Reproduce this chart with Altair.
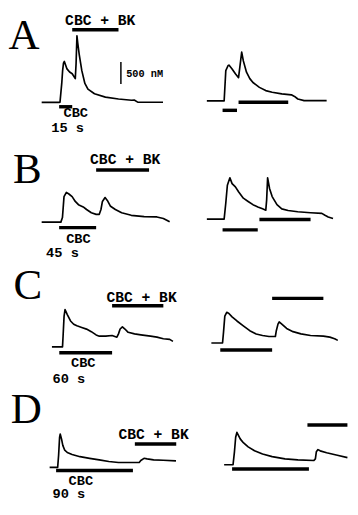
import altair as alt
import pandas as pd

# ---------------- data: [Ca2+]i traces (time since trace start in s, rise above baseline in nM)
A1_t = [0, 20, 21, 23, 24, 25, 26, 29, 32, 35, 38.5, 39.4, 40.4, 41.3, 43, 46, 49.5, 53, 60.5, 73, 88, 103, 106, 110, 139]
A1_ca = [0, 0, 5, 430, 720, 890, 930, 760, 690, 650, 540, 870, 1510, 1350, 1090, 720, 430, 300, 195, 120, 77, 48, 55, 7, 4]

A2_t = [0, 19.8, 21.7, 24.2, 25.3, 28.9, 32.7, 36.3, 38.2, 39.9, 41.8, 45.4, 49.2, 52.8, 60.2, 67.4, 74.8, 85.8, 96.8, 100.4, 104.2, 111.4, 137.2]
A2_ca = [0, 0, 689, 799, 814, 726, 616, 528, 836, 1107, 909, 653, 506, 418, 308, 235, 198, 161, 139, 103, 44, 7, 7]

B1_t = [0, 22, 23.8, 25.6, 28.3, 31.2, 34.9, 38.5, 42.1, 47.6, 51.4, 56.9, 62.4, 66, 67.9, 69.6, 72.6, 75.2, 78.9, 84.4, 91.6, 102.6, 117.4, 132, 139.4, 146.6]
B1_ca = [0, 0, 103, 579, 675, 638, 579, 469, 396, 345, 286, 213, 176, 176, 286, 469, 557, 491, 359, 286, 213, 154, 125, 117, 81, 7]

B2_t = [0, 19.8, 21.7, 23.5, 26.4, 28.9, 32.7, 36.3, 41.8, 47.3, 52.8, 58.4, 63.8, 67.5, 68.5, 69.6, 71.8, 74.8, 80.3, 85.8, 93.1, 104.1, 118.8, 131.7, 135.3, 139, 144.5]
B2_ca = [0, 0, 367, 770, 939, 807, 733, 623, 477, 403, 330, 279, 235, 205, 440, 939, 697, 513, 330, 235, 198, 169, 147, 132, 88, 51, 15]

C1_t = [0, 12.1, 12.8, 13.9, 15, 17.6, 21.3, 24.9, 28.6, 34.1, 39.6, 45.1, 50.6, 54.3, 61.6, 68.9, 74.4, 76.2, 78.1, 80.7, 83.6, 87.3, 94.6, 101.9, 112.9, 120.3, 127.6, 134.9, 138.6]
C1_ca = [0, 0, 257, 697, 844, 733, 587, 513, 477, 440, 403, 345, 271, 242, 242, 257, 220, 295, 405, 455, 405, 330, 295, 273, 242, 220, 185, 169, 125]

C2_t = [0, 12.8, 13.9, 15.4, 17.6, 20.1, 23.7, 29.3, 36.6, 44, 51.3, 58.6, 66, 73.3, 74.4, 76.3, 77.7, 80.7, 86.2, 93.5, 102.6, 113.6, 128.3, 135.7, 141.2, 144.8]
C2_ca = [0, 0, 242, 609, 697, 669, 594, 499, 389, 279, 205, 169, 147, 147, 279, 427, 477, 427, 330, 257, 207, 169, 154, 132, 97, 59]

D1_t = [0, 9.2, 10.3, 11.4, 12.1, 13.6, 15.1, 17.3, 20.2, 25.7, 34.8, 45.8, 56.8, 67.8, 78.8, 93.4, 102.6, 104.4, 108.1, 111.7, 119.1, 130.1, 144.7]
D1_ca = [0, 0, 279, 682, 755, 645, 499, 389, 337, 293, 242, 205, 169, 132, 110, 110, 110, 154, 205, 191, 169, 161, 147]

D2_t = [0, 10.2, 11.8, 13.2, 14.6, 16.5, 18.4, 22, 27.5, 34.8, 44, 55, 69.7, 84.4, 102.6, 104.5, 105.6, 107.5, 110, 117.4, 128.4, 141.2]
D2_ca = [0, 0, 293, 623, 733, 660, 587, 499, 405, 317, 242, 183, 132, 110, 95, 132, 293, 343, 315, 271, 220, 161]

# application periods (s from trace start): CBC, then CBC + BK
CBC_on = {"A1": (20, 35), "A2": (18, 34.5), "B1": (20, 62.4), "B2": (18, 58.3),
          "C1": (8.4, 68.9), "C2": (10.2, 69.6), "D1": (7.4, 95.4), "D2": (9.1, 97.1)}
BK_on = {"A1": (35, 88), "A2": (36.3, 93.2), "B1": (62.4, 123), "B2": (60.2, 118.8),
         "C1": (68.9, 127.6), "C2": (69.6, 128.3), "D1": (97.6, 145), "D2": (95.4, 141.2)}

panel_letters = ["A", "B", "C", "D"]
durations = ["15 s", "45 s", "60 s", "90 s"]
scale_nM = 500

# ---------------- layout (figure pixel frame)
S_PER_PX = 1.1
NM_PER_PX = 22
origin = {"A1": (40, 99.5), "A2": (212, 98), "B1": (40, 223), "B2": (212, 220),
          "C1": (50.7, 351.7), "C2": (216.7, 347.7), "D1": (48.3, 476), "D2": (230, 473.3)}
# bar levels (nM relative to baseline)
cbc_level = {"A1": -99, "A2": -213, "B1": -125, "B2": -242, "C1": -132, "C2": -161, "D1": -73, "D2": -97}
bk_level = {"A1": 1650, "A2": -29, "B1": 1181, "B2": -5, "C1": 933, "C2": 1012, "D1": 528, "D2": 902}
letter_pos = [(21.5, 44), (25, 183), (25.5, 302), (24, 430)]
bk_label_pos = [(101, 20), (127, 163.5), (144, 305), (156.5, 447)]
cbc_label_pos = [(75.5, 115), (78.3, 244.5), (83.3, 372.8), (80.8, 494)]
dur_pos = [(67, 130), (61.7, 259.5), (68.3, 389.5), (68.3, 507.5)]

traces = {"A1": (A1_t, A1_ca), "A2": (A2_t, A2_ca), "B1": (B1_t, B1_ca), "B2": (B2_t, B2_ca),
          "C1": (C1_t, C1_ca), "C2": (C2_t, C2_ca), "D1": (D1_t, D1_ca), "D2": (D2_t, D2_ca)}


def px(key, t, ca):
    ox, oy = origin[key]
    return ox + t / S_PER_PX, oy - ca / NM_PER_PX


rows = []
for key, (ts, cs) in traces.items():
    for i, (t, c) in enumerate(zip(ts, cs)):
        x, y = px(key, t, c)
        rows.append({"trace": key, "i": i, "x": x, "y": y})
lines_df = pd.DataFrame(rows)

bar_rows = []
for key in traces:
    for on, lev in ((CBC_on, cbc_level), (BK_on, bk_level)):
        x0, y0 = px(key, on[key][0], lev[key])
        x1, _ = px(key, on[key][1], lev[key])
        bar_rows.append({"x": x0, "x2": x1, "y": y0})
bars_df = pd.DataFrame(bar_rows)

# scale bar next to panel A
sb_x, sb_bottom = 122.5, 80.5
scale_df = pd.DataFrame([{"x": sb_x, "y": sb_bottom, "y2": sb_bottom - scale_nM / NM_PER_PX}])

letters_df = pd.DataFrame([{"x": p[0], "y": p[1], "text": s} for s, p in zip(panel_letters, letter_pos)])
bk_df = pd.DataFrame([{"x": p[0], "y": p[1], "text": "CBC + BK"} for p in bk_label_pos])
small_df = pd.DataFrame(
    [{"x": p[0], "y": p[1], "text": "CBC"} for p in cbc_label_pos]
    + [{"x": p[0], "y": p[1], "text": d} for d, p in zip(durations, dur_pos)]
)
scale_lbl_df = pd.DataFrame([{"x": 128, "y": 73, "text": f"{scale_nM} nM"}])

X = alt.X("x:Q", scale=alt.Scale(domain=[8, 358], nice=False, zero=False), axis=None)
Y = alt.Y("y:Q", scale=alt.Scale(domain=[8, 507], nice=False, zero=False, reverse=True), axis=None)

lines = alt.Chart(lines_df).mark_line(color="black", strokeWidth=1.7, strokeJoin="round").encode(
    x=X, y=Y, detail="trace:N", order="i:Q")
bars = alt.Chart(bars_df).mark_rule(color="black", strokeWidth=3.5).encode(x=X, x2="x2:Q", y=Y)
scalebar = alt.Chart(scale_df).mark_rule(color="black", strokeWidth=1.5).encode(x=X, y=Y, y2="y2:Q")
letters = alt.Chart(letters_df).mark_text(font="Liberation Serif", fontSize=44, align="center",
                                          baseline="alphabetic", color="black").encode(x=X, y=Y, text="text:N")
bk_lbl = alt.Chart(bk_df).mark_text(font="Liberation Mono", fontSize=15, fontWeight="bold",
                                    align="center", baseline="alphabetic", color="black").encode(
    x=X, y=Y, text="text:N")
small_lbl = alt.Chart(small_df).mark_text(font="Liberation Mono", fontSize=14, fontWeight="bold",
                                          align="center", baseline="alphabetic", color="black").encode(
    x=X, y=Y, text="text:N")
scale_lbl = alt.Chart(scale_lbl_df).mark_text(font="Liberation Mono", fontSize=10.5, fontWeight="bold",
                                              align="left", baseline="alphabetic", color="black").encode(
    x=X, y=Y, text="text:N")

chart = alt.layer(lines, bars, scalebar, letters, bk_lbl, small_lbl, scale_lbl).properties(
    width=350, height=499,
    autosize=alt.AutoSizeParams(type="fit", contains="padding"),
    padding=0, background="white",
).configure_view(stroke=None)

chart.save("out.html", embed_options={"renderer": "svg", "actions": False})
